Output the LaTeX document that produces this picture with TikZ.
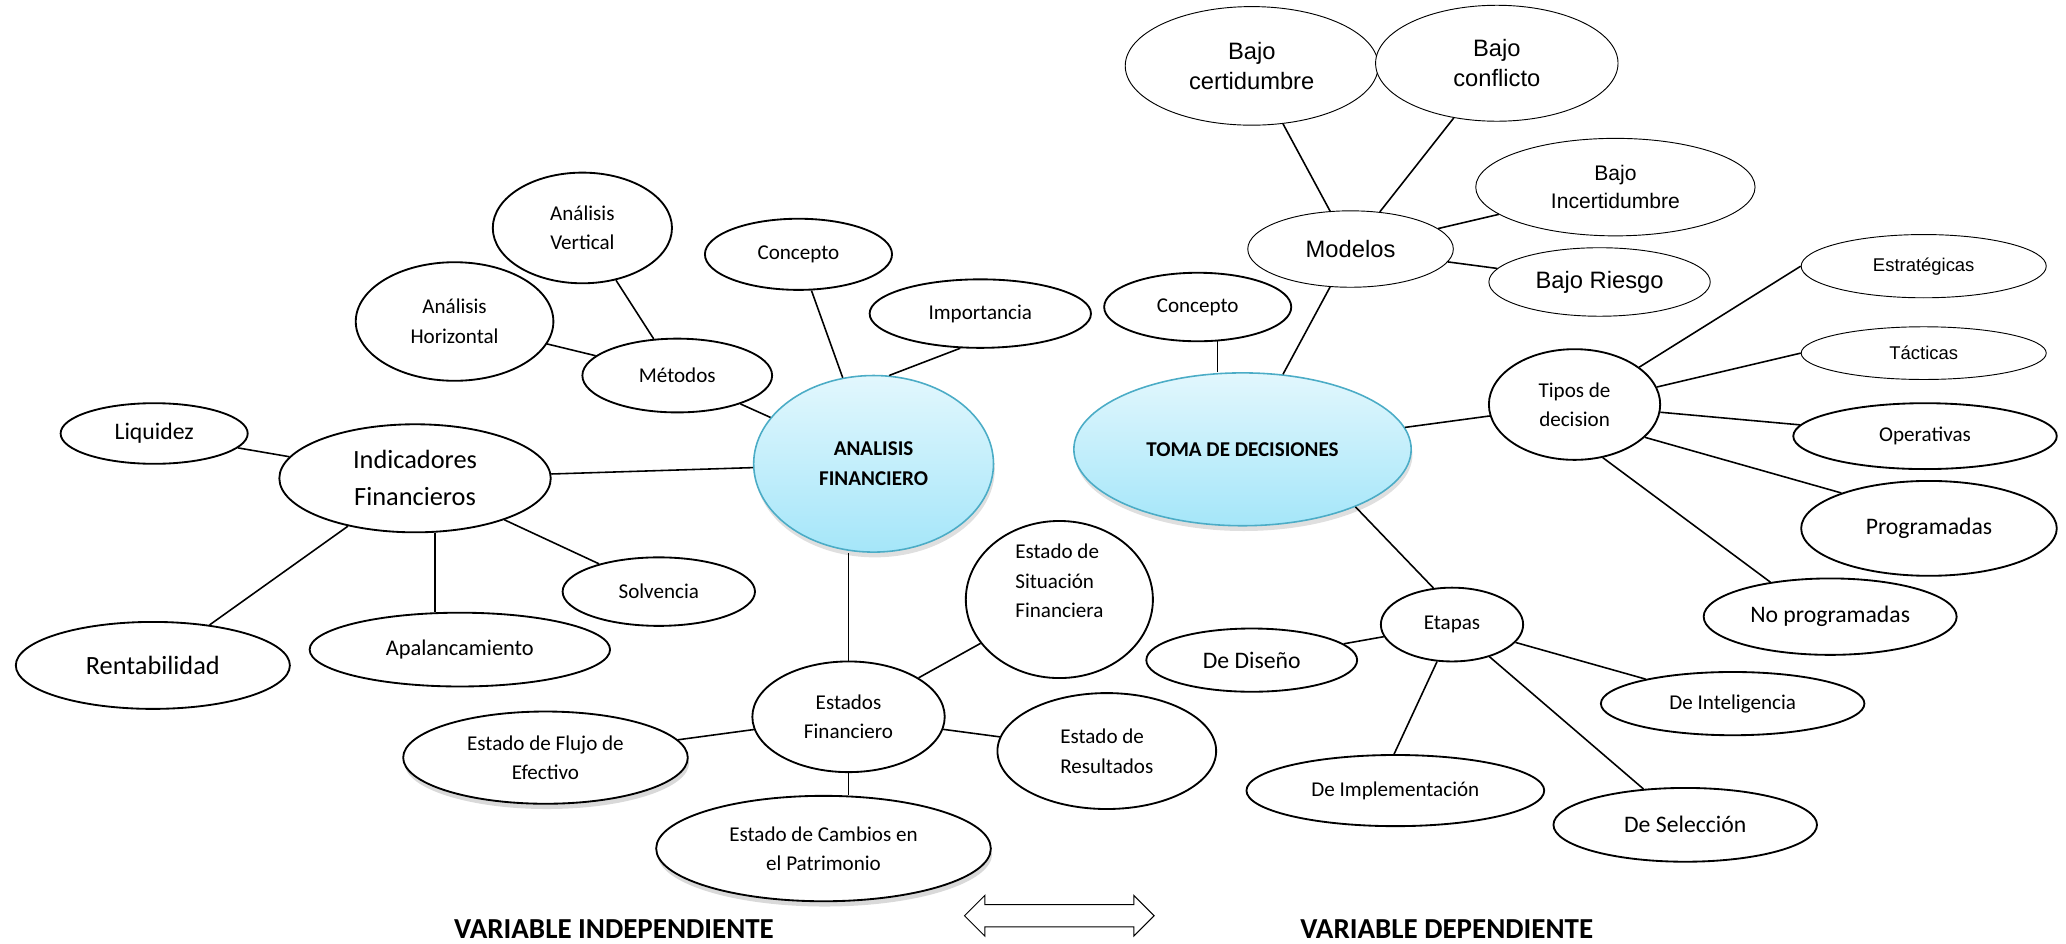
\documentclass[tikz,border=0pt]{standalone}
\usepackage{fontspec}
\setmainfont{Carlito}
\newfontfamily\arialfont{Liberation Sans}
\usepackage{tikz}
\usetikzlibrary{shapes.geometric,shapes.arrows,shadows}

\definecolor{coreline}{HTML}{4BACC6}
\definecolor{coretop}{HTML}{E2F7FD}
\definecolor{corebot}{HTML}{A5E6F9}

\tikzset{
	idea/.style={ellipse,draw,line width=1.4pt,fill=white,inner sep=0pt,align=center,font=\fontsize{16}{22.4}\selectfont},
	thinidea/.style={idea,line width=0.7pt,font=\arialfont\fontsize{18}{23}\selectfont},
	core/.style={ellipse,draw=coreline,line width=1.2pt,top color=coretop,bottom color=corebot,inner sep=0pt,align=center,font=\bfseries\fontsize{16}{22.4}\selectfont,drop shadow={shadow xshift=1pt,shadow yshift=-4pt,opacity=0.25}},
	withshadow/.style={drop shadow={shadow xshift=1pt,shadow yshift=-4pt,opacity=0.3}},
	dims/.style 2 args={minimum width=#1pt,minimum height=#2pt},
	link/.style={line width=1.2pt},
	title/.style={font=\bfseries\fontsize{22}{26}\selectfont}
}

\begin{document}
\begin{tikzpicture}[x=1pt,y=-1pt]
	\useasboundingbox (0,0) rectangle (1568,716);
	
	% analisis financiero
	\node (af) [core,dims={182}{134}] at (663,352) {ANALISIS\\FINANCIERO};
	\node (liq) [idea,dims={142}{46},font=\fontsize{18}{25}\selectfont] at (117,329) {Liquidez};
	\node (ind) [idea,dims={206}{82},font=\fontsize{20}{28}\selectfont] at (315,363) {Indicadores\\Financieros};
	\node (rent) [idea,dims={208}{66},font=\fontsize{20}{28}\selectfont] at (116,505) {Rentabilidad};
	\node (apal) [idea,dims={228}{56},font=\fontsize{17}{24}\selectfont] at (349,493) {Apalancamiento};
	\node (solv) [idea,dims={146}{52}] at (500,449) {Solvencia};
	\node (ahor) [idea,dims={150}{90}] at (345,244) {Análisis\\Horizontal};
	\node (aver) [idea,dims={136}{84}] at (442,173) {Análisis\\Vertical};
	\node (met) [idea,dims={144}{56}] at (514,285) {Métodos};
	\node (conc1) [idea,dims={142}{54}] at (606,193) {Concepto};
	\node (imp) [idea,dims={168}{52}] at (744,238) {Importancia};
	\node (est) [idea,dims={146}{84}] at (644,544) {Estados\\Financiero};
	\node (esf) [idea,dims={142}{116},align=left] at (804,455) {Estado de\\Situación\\Financiera\\[6pt]};
	\node (eres) [idea,dims={166}{88},align=left] at (840,570) {Estado de\\Resultados};
	\node (efe) [idea,withshadow,dims={216}{70}] at (414,575) {Estado de Flujo de\\Efectivo};
	\node (ecp) [idea,withshadow,dims={254}{80}] at (625,644) {Estado de Cambios en\\el Patrimonio};
	
	% toma de decisiones
	\node (td) [core,dims={256}{116}] at (943,341) {TOMA DE DECISIONES};
	\node (conc2) [idea,dims={142}{52}] at (909,233) {Concepto};
	\node (mod) [thinidea,dims={156}{58}] at (1025,189) {Modelos};
	\node (bcer) [thinidea,dims={192}{90}] at (950,50) {Bajo\\certidumbre};
	\node (bcon) [thinidea,dims={184}{88}] at (1136,48) {Bajo\\conflicto};
	\node (binc) [thinidea,dims={212}{74},font=\arialfont\fontsize{16}{21}\selectfont] at (1226,142) {Bajo\\Incertidumbre};
	\node (brie) [thinidea,dims={168}{52}] at (1214,214) {Bajo Riesgo};
	\node (tip) [idea,dims={130}{84}] at (1195,307) {Tipos de\\decision};
	\node (estr) [thinidea,dims={186}{48},font=\arialfont\fontsize{14}{18}\selectfont] at (1460,202) {Estratégicas};
	\node (tact) [thinidea,dims={186}{40},font=\arialfont\fontsize{14}{18}\selectfont] at (1460,268) {Tácticas};
	\node (oper) [idea,dims={200}{50}] at (1461,331) {Operativas};
	\node (prog) [idea,dims={194}{72},font=\fontsize{18}{25}\selectfont] at (1464,401) {Programadas};
	\node (noprog) [idea,dims={192}{58},font=\fontsize{18}{25}\selectfont] at (1389,468) {No programadas};
	\node (eta) [idea,dims={108}{56}] at (1102,474) {Etapas};
	\node (dis) [idea,dims={160}{48},font=\fontsize{18}{25}\selectfont] at (950,501) {De Diseño};
	\node (intel) [idea,dims={200}{48}] at (1315,534) {De Inteligencia};
	\node (impl) [idea,dims={226}{54}] at (1059,600) {De Implementación};
	\node (sel) [idea,dims={200}{56},font=\fontsize{18}{25}\selectfont] at (1279,626) {De Selección};
	
	\foreach \a/\b in {ind/liq,ind/rent,ind/solv,ind/af,met/ahor,met/aver,met/af,conc1/af,
		est/esf,est/eres,est/efe,td/mod,mod/bcer,mod/bcon,mod/binc,mod/brie,
		td/tip,tip/oper,eta/dis,eta/intel,eta/sel}
	\draw [link] (\a) -- (\b);
	
	\draw [link] (ind.-70) -- (apal.north -| ind.-70);
	\draw [link] (af.80) -- (imp.240);
	\draw [link] (est.north |- af.south) -- (est.north);
	\draw [link] (est.south) -- (est.south |- ecp.north);
	\draw [link] (conc2.-60) -- (conc2.-60 |- td.north);
	\draw [link] (tip.30) -- (estr.west);
	\draw [link] (tip.12) -- (tact.west);
	\draw [link] (tip.-25) -- (prog.158);
	\draw [link] (tip.-62) -- (noprog.150);
	\draw [link] (td.-27) -- (eta.117);
	\draw [link] (eta.-112) -- (impl.92);
	
	% variables
	\node (vi) [title] at (466,705) {VARIABLE INDEPENDIENTE};
	\node (arr) [double arrow,draw,line width=0.8pt,minimum height=144pt,inner xsep=0pt,inner ysep=8pt,double arrow head extend=7pt] at (804,695) {};
	\node (vd) [title] at (1098,705) {VARIABLE DEPENDIENTE};
\end{tikzpicture}
\end{document}
